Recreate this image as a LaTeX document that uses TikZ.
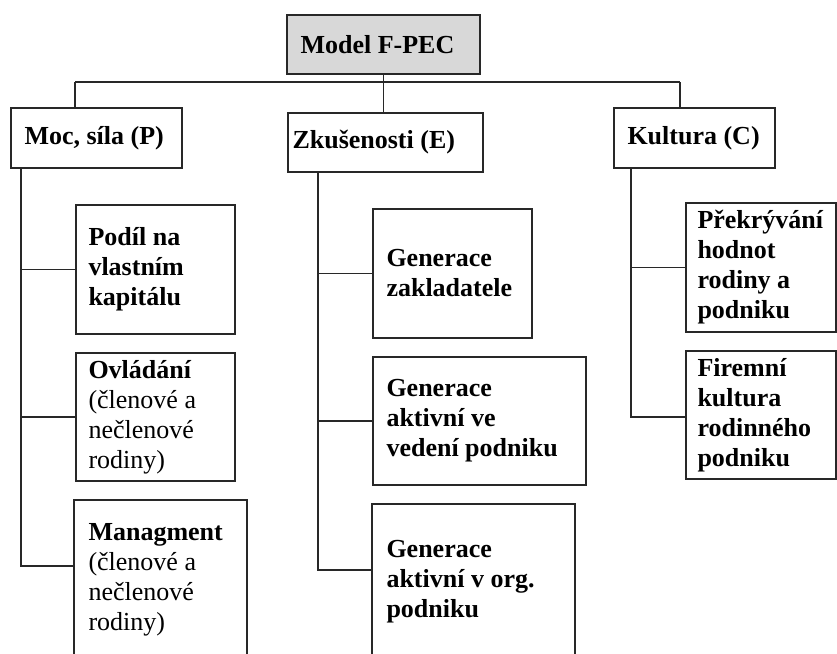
\documentclass[tikz,border=0pt]{standalone}
\usepackage{fontspec}
\setmainfont{Liberation Serif}
\definecolor{hdrgray}{RGB}{216,216,216}
\definecolor{lnc}{RGB}{40,40,40}
\begin{document}
\begin{tikzpicture}[x=1pt,y=-1pt,
  box/.style={draw=lnc, line width=1.4pt, inner sep=0pt},
  lbl/.style={inner sep=0pt, align=left, anchor=west,
    font=\fontsize{26}{30}\selectfont\bfseries},
  conn/.style={draw=lnc, line width=1.4pt}]
\useasboundingbox (0,0) rectangle (837,653);
\clip (0,0) rectangle (837,653);
% top level
\node[box, fill=hdrgray, minimum width=193pt, minimum height=59pt] (model) at (383.5,44.5) {};
\node[lbl] (modelT) at ([xshift=14pt]model.west) {Model F-PEC};
\node[box, minimum width=171pt, minimum height=60pt] (moc) at (96.5,138) {};
\node[lbl] (mocT) at ([xshift=14pt]moc.west) {Moc, síla (P)};
\node[box, minimum width=195pt, minimum height=59pt] (zk) at (385.5,142.5) {};
\node[lbl] (zkT) at ([xshift=5pt]zk.west) {Zkušenosti (E)};
\node[box, minimum width=161pt, minimum height=60pt] (kul) at (694.5,138) {};
\node[lbl] (kulT) at ([xshift=14pt]kul.west) {Kultura (C)};
% P column
\node[box, minimum width=159pt, minimum height=129pt] (podil) at (155.5,269.5) {};
\node[lbl] (podilT) at ([xshift=13pt]podil.west) {Podíl na\\vlastním\\kapitálu};
\node[box, minimum width=159pt, minimum height=128pt] (ovl) at (155.5,417) {};
\node[lbl] (ovlT) at ([xshift=13pt]ovl.west) {Ovládání\\\mdseries(členové a\\\mdseries nečlenové\\\mdseries rodiny)};
\node[box, minimum width=173pt, minimum height=160pt] (mng) at (160.5,580) {};
\node[lbl] (mngT) at ([xshift=15pt]mng.west) {Managment\\\mdseries(členové a\\\mdseries nečlenové\\\mdseries rodiny)};
% E column
\node[box, minimum width=159pt, minimum height=129pt] (gz) at (452.5,273.5) {};
\node[lbl] (gzT) at ([xshift=14pt]gz.west) {Generace\\zakladatele};
\node[box, minimum width=213pt, minimum height=128pt] (gv) at (479.5,421) {};
\node[lbl] (gvT) at ([xshift=14pt]gv.west) {Generace\\aktivní ve\\vedení podniku};
\node[box, minimum width=203pt, minimum height=156pt] (go) at (473.5,582) {};
\node[lbl] (goT) at ([xshift=15pt]go.west) {Generace\\aktivní v org.\\podniku};
% C column
\node[box, minimum width=150pt, minimum height=129pt] (pr) at (761,267.5) {};
\node[lbl] (prT) at ([xshift=12pt]pr.west) {Překrývání\\hodnot\\rodiny a\\podniku};
\node[box, minimum width=150pt, minimum height=128pt] (fk) at (761,415) {};
\node[lbl] (fkT) at ([xshift=12pt]fk.west) {Firemní\\kultura\\rodinného\\podniku};
% bus
\coordinate (busL) at (75,82);
\coordinate (busR) at (680,82);
\draw[conn] (busL) -- (busR);
\draw[conn] (model.south) -- (model.south |- zk.north);
\draw[conn] (busL) -- (busL |- moc.north);
\draw[conn] (busR) -- (busR |- kul.north);
% P trunk
\coordinate (pt) at (21,566);
\draw[conn] (moc.south -| pt) -- (pt) -- (pt -| mng.west);
\draw[conn] (podil.west) -- (podil.west -| pt);
\draw[conn] (ovl.west) -- (ovl.west -| pt);
% E trunk
\coordinate (et) at (318,570);
\draw[conn] (zk.south -| et) -- (et) -- (et -| go.west);
\draw[conn] (gz.west) -- (gz.west -| et);
\draw[conn] (gv.west) -- (gv.west -| et);
% C trunk
\coordinate (ct) at (631,417);
\draw[conn] (kul.south -| ct) -- (ct) -- (ct -| fk.west);
\draw[conn] (pr.west) -- (pr.west -| ct);
\end{tikzpicture}
\end{document}
